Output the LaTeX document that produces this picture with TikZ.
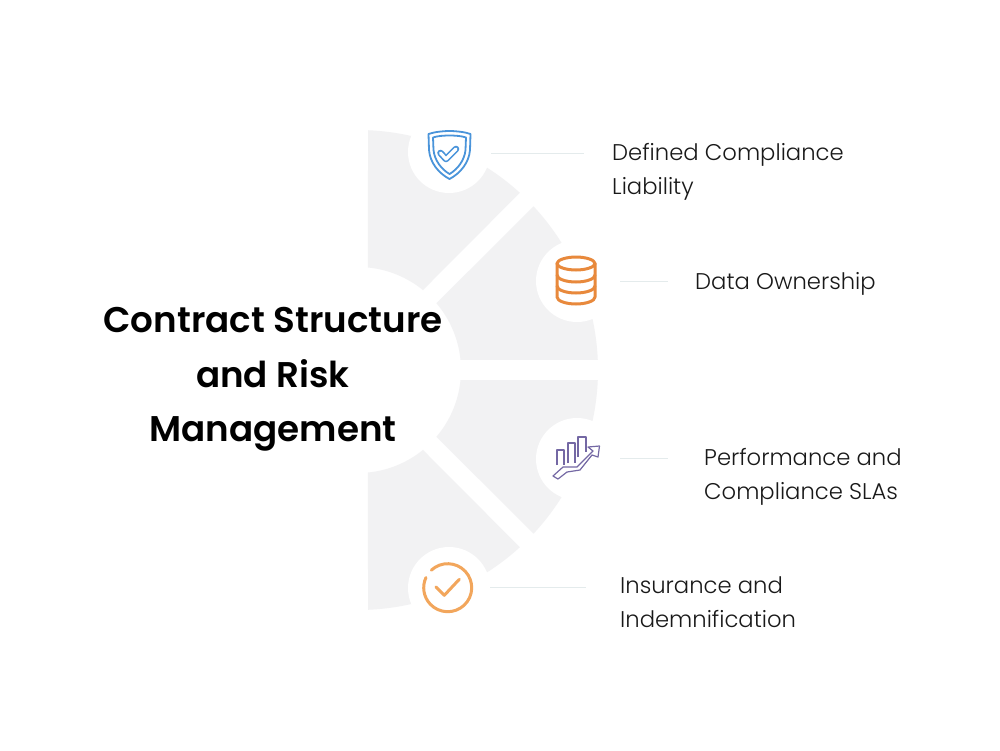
\documentclass[tikz,border=0pt]{standalone}
\usepackage{fontspec}
\setmainfont{Poppins}
\newfontfamily\labfont{Poppins Light}
\newfontfamily\ttlfont{Poppins SemiBold}
\usetikzlibrary{calc}
\definecolor{sectorgray}{HTML}{F2F2F3}
\definecolor{rulecol}{HTML}{E4EBEC}
\definecolor{shieldblue}{HTML}{4A94DA}
\definecolor{dborange}{HTML}{E8893C}
\definecolor{chartpurple}{HTML}{7468A4}
\definecolor{checkorange}{HTML}{F2A65C}
\tikzset{
  disk/.style={circle,fill=white,minimum size=82pt,inner sep=0pt},
  labeltext/.style={font=\labfont\fontsize{22.7}{34}\selectfont,align=left,anchor=west,text=black!90,inner sep=0pt},
  titletext/.style={font=\ttlfont\fontsize{35.7}{54.5}\selectfont,align=center,text=black,inner sep=0pt},
  leader/.style={draw=rulecol,line width=1pt},
  dbline/.style={draw=dborange,line width=3pt,line cap=round,line join=round},
  shieldline/.style={draw=shieldblue,line width=1.8pt,line join=round},
  chartline/.style={draw=chartpurple,line width=1.2pt,line join=round},
}
\newcommand{\sectorshape}[5]{% sign, outer start, outer end, inner start, inner end
  \fill[sectorgray] ($(358,370)+(#1*#2:240pt)$) arc[start angle=#1*#2,end angle=#1*#3,radius=240pt]
    -- ($(358,370)+(#1*#4:103pt)$) arc[start angle=#1*#4,end angle=#1*#5,radius=103pt] -- cycle;}
\begin{document}
\begin{tikzpicture}[x=1pt,y=1pt,yscale=-1]
\path[use as bounding box,fill=white] (0,0) rectangle (1000,750);
% sectors
\sectorshape{-1}{87.6}{47.6}{50.9}{84.5}
\sectorshape{-1}{43}{2.4}{5.7}{40.4}
\sectorshape{1}{87.6}{47.6}{50.9}{84.5}
\sectorshape{1}{43}{2.4}{5.7}{40.4}
% disks
\node[disk] (d1) at (449,152) {};
\node[disk] (d2) at (577,281) {};
\node[disk] (d3) at (577,459) {};
\node[disk] (d4) at (449,588) {};
% leaders
\coordinate (l1a) at (491,153); \coordinate (l1b) at (584,153);
\coordinate (l2a) at (620,281); \coordinate (l2b) at (668,281);
\coordinate (l3a) at (620,458); \coordinate (l3b) at (668,458);
\coordinate (l4a) at (490,587); \coordinate (l4b) at (586,587);
\draw[leader] (l1a) -- (l1b);
\draw[leader] (l2a) -- (l2b);
\draw[leader] (l3a) -- (l3b);
\draw[leader] (l4a) -- (l4b);
% shield
\draw[shieldline] (449.5,131) .. controls (456,131) and (465,132) .. (470.5,134) -- (470,150) .. controls (469,163) and (460,173.5) .. (449.5,179) .. controls (439,173.5) and (430,163) .. (429,150) -- (428.5,134) .. controls (434,132) and (443,131) .. cycle;
\draw[shieldline] (449.5,135.5) .. controls (455,135.5) and (462,136) .. (466,137.5) -- (465.5,150) .. controls (464.5,160) and (458,169) .. (449.5,174) .. controls (441,169) and (434.5,160) .. (433.5,150) -- (433,137.5) .. controls (437,136) and (444,135.5) .. cycle;
\draw[shieldblue,line width=6.6pt,line cap=round,line join=round] (440.5,153) -- (446,159) -- (456,149);
\draw[white,line width=3.2pt,line cap=round,line join=round] (440.5,153) -- (446,159) -- (456,149);
% database
\draw[dbline] (576,257) .. controls (586,257) and (595,260) .. (595,263.5) .. controls (595,267) and (586,270) .. (576,270) .. controls (566,270) and (557,267) .. (557,263.5) .. controls (557,260) and (566,257) .. cycle;
\draw[dbline] (557,263.5) -- (557,297) .. controls (557,301) and (566,304) .. (576,304) .. controls (586,304) and (595,301) .. (595,297) -- (595,263.5);
\draw[dbline] (557,275) .. controls (557,279) and (566,282) .. (576,282) .. controls (586,282) and (595,279) .. (595,275);
\draw[dbline] (557,286) .. controls (557,290) and (566,293) .. (576,293) .. controls (586,293) and (595,290) .. (595,286);
% chart
\draw[chartline] (553,476) -- (558,479) -- (567,472) -- (580,470) -- (592,455) -- (598,457) -- (599.5,446) -- (588,447) -- (593,451) -- (577,467) -- (563,467) -- cycle;
\draw[chartline] (557,465) -- (557,450) -- (564,450) -- (564,465);
\draw[chartline] (568,463) -- (568,443) -- (575,443) -- (575,463);
\draw[chartline] (578,457) -- (578,437) -- (586,437) -- (586,452);
% check circle
\draw[checkorange,line width=3pt,line cap=round] (447.7,587.7) ++(-133:24pt) arc[start angle=-133,end angle=205,radius=24pt];
\draw[checkorange,line width=3pt,line cap=round,line join=round] (436,587) -- (444.3,595.3) -- (459.3,579.3);
% text
\node[titletext] (title) at (273,379.5) {Contract Structure\\and Risk\\Management};
\node[labeltext] (t1) at (612,172) {Defined Compliance\\Liability};
\node[labeltext] (t2) at (695,284) {Data Ownership};
\node[labeltext] (t3) at (704,477) {Performance and\\Compliance SLAs};
\node[labeltext] (t4) at (620,602) {Insurance and\\Indemnification};
\end{tikzpicture}
\end{document}
